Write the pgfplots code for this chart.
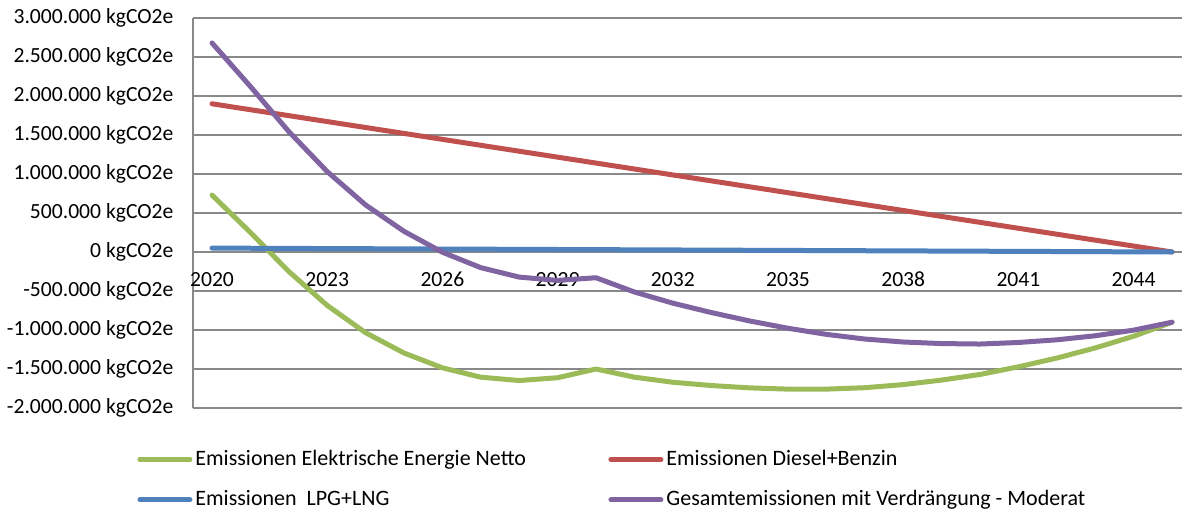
\documentclass[border=0pt]{standalone}
\usepackage{fontspec}
\setmainfont{Carlito}
\usepackage{pgfplots}
\pgfplotsset{compat=1.18}
\definecolor{cgreen}{HTML}{9BBB59}
\definecolor{cred}{HTML}{C0504D}
\definecolor{cblue}{HTML}{4F81BD}
\definecolor{cpurple}{HTML}{8064A2}
\definecolor{gridgray}{HTML}{898989}
\begin{document}
\begin{tikzpicture}
\begin{axis}[
  scale only axis, width=494.5pt, height=195pt,
  at={(0,0)}, anchor=south west,
  xmin=2019.505, xmax=2045.26, ymin=-2000000, ymax=3000000,
  axis x line=middle, axis y line=left,
  axis line style={-, draw=gridgray, line width=0.8pt},
  xtick={2020,2023,2026,2029,2032,2035,2038,2041,2044},
  xticklabels={2020,2023,2026,2029,2032,2035,2038,2041,2044},
  ytick={-2000000,-1500000,-1000000,-500000,0,500000,1000000,1500000,2000000,2500000,3000000},
  yticklabels={-2.000.000 kgCO2e,-1.500.000 kgCO2e,-1.000.000 kgCO2e,-500.000 kgCO2e,0 kgCO2e,500.000 kgCO2e,1.000.000 kgCO2e,1.500.000 kgCO2e,2.000.000 kgCO2e,2.500.000 kgCO2e,3.000.000 kgCO2e},
  scaled y ticks=false, scaled x ticks=false,
  major tick length=0pt,
  ymajorgrids, grid style={gridgray, line width=0.8pt},
  tick label style={font=\fontsize{10.8}{13}\selectfont, text=black},
  xticklabel style={anchor=north, yshift=-6.5pt},
  yticklabel style={xshift=-6.3pt},
  legend columns=2,
  legend cell align=left,
  legend style={at={(-0.0566,-0.1)}, anchor=north west, draw=none, fill=none,
    font=\fontsize{11}{13}\selectfont, inner sep=0pt, row sep=8pt, column sep=0pt,
    nodes={inner sep=1.5pt}},
  legend image code/.code={\draw[#1] (0pt,0pt) -- (25pt,0pt);},
  every axis plot/.append style={line width=2.5pt, line cap=round, line join=round, mark=none},
]
\addplot[cgreen] coordinates {
(2020,730000) (2021,250000) (2022,-250000) (2023,-685000) (2024,-1035000)
(2025,-1295000) (2026,-1485000) (2027,-1605000) (2028,-1648000) (2029,-1612000)
(2030,-1500000) (2031,-1605000) (2032,-1670000) (2033,-1712000) (2034,-1742000)
(2035,-1758000) (2036,-1758000) (2037,-1740000) (2038,-1700000) (2039,-1642000)
(2040,-1570000) (2041,-1472000) (2042,-1360000) (2043,-1230000) (2044,-1080000)
(2045,-900000)};
\addlegendentry{\makebox[205pt][l]{Emissionen Elektrische Energie Netto}}
\addplot[cred] coordinates {
(2020,1900000) (2021,1824000) (2022,1748000) (2023,1672000) (2024,1596000)
(2025,1520000) (2026,1444000) (2027,1368000) (2028,1292000) (2029,1216000)
(2030,1140000) (2031,1064000) (2032,988000) (2033,912000) (2034,836000)
(2035,760000) (2036,684000) (2037,608000) (2038,532000) (2039,456000)
(2040,380000) (2041,304000) (2042,228000) (2043,152000) (2044,76000)
(2045,0)};
\addlegendentry{Emissionen Diesel+Benzin}
\addplot[cblue] coordinates {
(2020,50000) (2021,48000) (2022,46000) (2023,44000) (2024,42000)
(2025,40000) (2026,38000) (2027,36000) (2028,34000) (2029,32000)
(2030,30000) (2031,28000) (2032,26000) (2033,24000) (2034,22000)
(2035,20000) (2036,18000) (2037,16000) (2038,14000) (2039,12000)
(2040,10000) (2041,8000) (2042,6000) (2043,4000) (2044,2000)
(2045,0)};
\addlegendentry{\makebox[205pt][l]{Emissionen~ LPG+LNG}}
\addplot[cpurple] coordinates {
(2020,2680000) (2021,2122000) (2022,1544000) (2023,1031000) (2024,603000)
(2025,265000) (2026,-3000) (2027,-201000) (2028,-322000) (2029,-364000)
(2030,-330000) (2031,-513000) (2032,-656000) (2033,-776000) (2034,-884000)
(2035,-978000) (2036,-1056000) (2037,-1116000) (2038,-1154000) (2039,-1174000)
(2040,-1180000) (2041,-1160000) (2042,-1126000) (2043,-1074000) (2044,-1002000)
(2045,-900000)};
\addlegendentry{Gesamtemissionen mit Verdrängung - Moderat}
\end{axis}
\pgfresetboundingbox
\path[use as bounding box] (-96.5pt,-52pt) rectangle (494.5pt,204pt);
\end{tikzpicture}
\end{document}
